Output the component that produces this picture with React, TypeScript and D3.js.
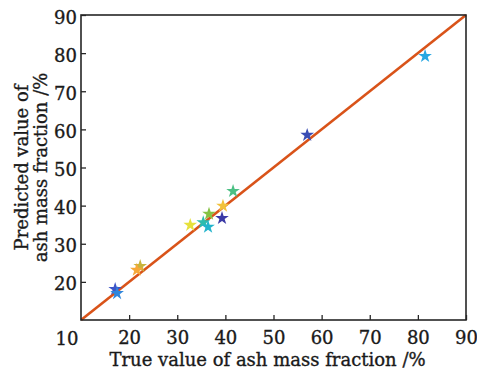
import React, { useRef, useEffect } from "react"
import * as d3 from "d3"

const trueValues = [17.1, 17.5, 22.3, 21.6, 32.7, 35.4, 36.4, 36.6, 39.3, 39.5, 41.6, 57.0, 81.5]
const predValues = [18.1, 17.0, 24.1, 23.1, 34.9, 35.6, 34.4, 37.8, 36.7, 39.9, 43.8, 58.5, 79.2]
const starColors = [
  "#3d55c8", "#2f86dc", "#c8b43c", "#f6a838", "#e6e13c", "#2ebcae", "#23b4cc",
  "#86c244", "#3b3aa6", "#f2c23c", "#4cc084", "#3a4db4", "#27a7e2",
]
const tickValues = [20, 30, 40, 50, 60, 70, 80, 90]
const cornerLabel = "10"
const xTitle = "True value of ash mass fraction /%"
const yTitleLines = ["Predicted value of", "ash mass fraction /%"]

const W = 477
const H = 373
const margin = { top: 15, right: 11, bottom: 53, left: 81 }

const App = () => {
  const element = useRef<SVGSVGElement | null>(null)

  useEffect(() => {
    const width = W - margin.left - margin.right
    const height = H - margin.top - margin.bottom
    const svg = d3.select(element.current)
    svg.selectAll("*").remove()

    const g = svg.append("g")
      .attr("transform", "translate(" + margin.left + "," + margin.top + ")")

    const x = d3.scaleLinear().domain([10, 90]).range([0, width])
    const y = d3.scaleLinear().domain([10, 90]).range([height, 0])

    const font = "DejaVu Serif"
    const fs = 18
    const ink = "#1a1a1a"
    const styleText = (sel) => sel
      .style("font-family", font)
      .style("font-size", fs + "px")
      .attr("fill", ink)
      .attr("stroke", ink)
      .attr("stroke-width", 0.35)

    // 1:1 line
    g.append("line")
      .attr("x1", x(10)).attr("y1", y(10))
      .attr("x2", x(90)).attr("y2", y(90))
      .attr("stroke", "#d95319")
      .attr("stroke-width", 2.6)

    // stars
    const star = d3.symbol().type(d3.symbolStar).size(58)
    g.append("g")
      .selectAll("path")
      .data(trueValues)
      .enter()
        .append("path")
        .attr("d", star)
        .attr("transform", (d, i) => "translate(" + x(d) + "," + y(predValues[i]) + ")")
        .attr("fill", (d, i) => starColors[i])

    // axes, ticks inward
    const xAxis = g.append("g")
      .attr("transform", "translate(0," + height + ")")
      .call(d3.axisBottom(x).tickValues(tickValues).tickSize(-5).tickPadding(11))
    const yAxis = g.append("g")
      .call(d3.axisLeft(y).tickValues(tickValues).tickSize(-5).tickPadding(4))

    for (const ax of [xAxis, yAxis]) {
      ax.attr("font-family", null).attr("font-size", null)
      ax.select(".domain").remove()
      ax.selectAll(".tick line").attr("stroke", "#262626").attr("stroke-width", 1.3)
      styleText(ax.selectAll(".tick text"))
    }
    yAxis.selectAll(".tick text").attr("dy", "0.45em")

    // merged corner label
    styleText(g.append("text")
      .attr("x", x(10) - 14)
      .attr("y", y(10) + 25)
      .attr("text-anchor", "middle"))
      .text(cornerLabel)

    // frame
    g.append("rect")
      .attr("width", width)
      .attr("height", height)
      .attr("fill", "none")
      .attr("stroke", "#262626")
      .attr("stroke-width", 1.6)

    // titles
    styleText(svg.append("text")
      .attr("x", margin.left + width / 2 - 6)
      .attr("y", 366)
      .attr("text-anchor", "middle"))
      .text(xTitle)

    yTitleLines.forEach((line, i) => {
      styleText(svg.append("text")
        .attr("transform", "translate(" + (28 + i * 19) + "," + (margin.top + height / 2) + ") rotate(-90)")
        .attr("text-anchor", "middle"))
        .text(line)
    })
  }, [])

  return (
    <svg
      ref={element}
      width={W}
      height={H}
      style={{ position: "absolute", left: 0, top: 0, background: "#fff" }}
    />
  )
}

export default App
